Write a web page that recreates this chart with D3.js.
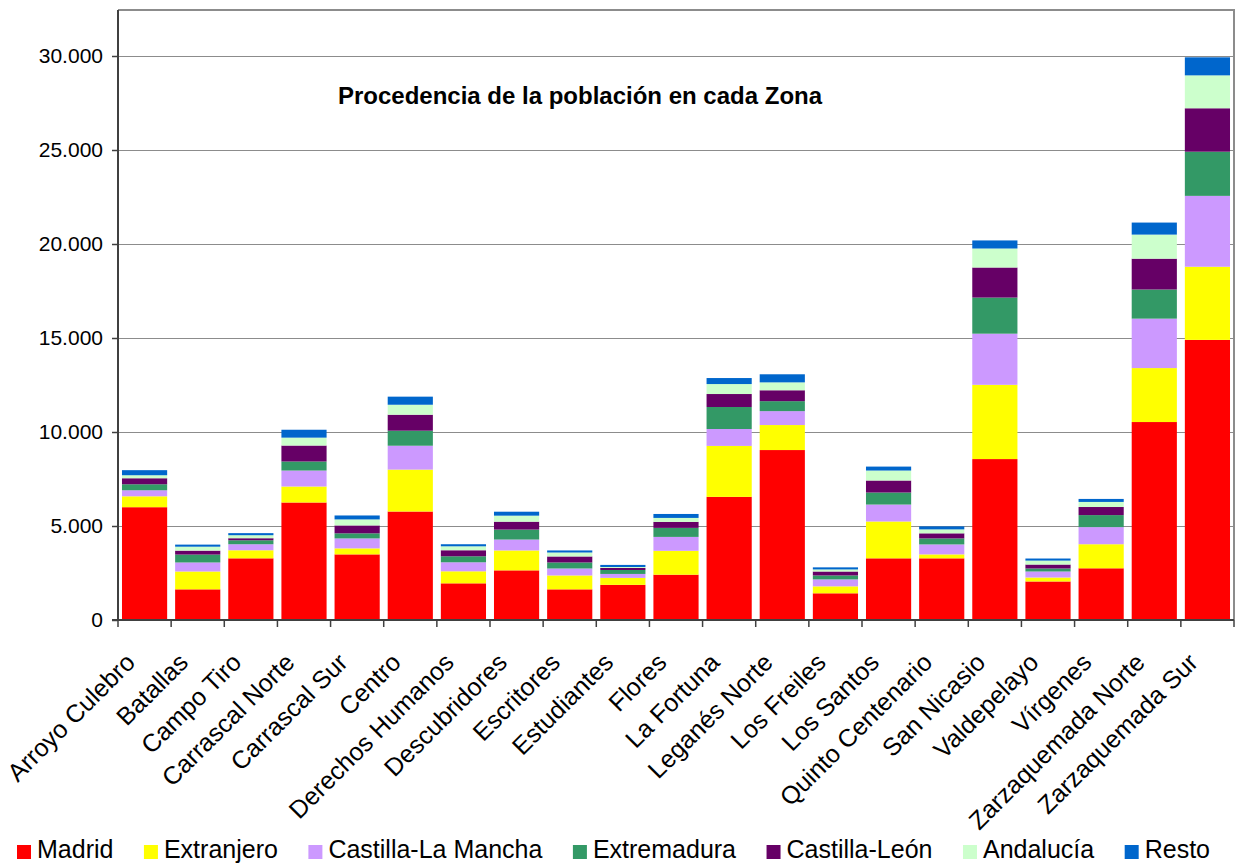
<!DOCTYPE html>
<html>
<head>
<meta charset="utf-8">
<script src="https://cdn.jsdelivr.net/npm/d3@7"></script>
<style>
  body { margin: 0; background: #fff; }
  svg { display: block; font-family: Arial, "Liberation Sans", sans-serif; }
</style>
</head>
<body>
<svg id="chart" width="1236" height="864"></svg>
<script>
// Data
const zonas = ["Arroyo Culebro", "Batallas", "Campo Tiro", "Carrascal Norte", "Carrascal Sur", "Centro",
  "Derechos Humanos", "Descubridores", "Escritores", "Estudiantes", "Flores", "La Fortuna", "Leganés Norte",
  "Los Freiles", "Los Santos", "Quinto Centenario", "San Nicasio", "Valdepelayo", "Vírgenes",
  "Zarzaquemada Norte", "Zarzaquemada Sur"];

const madrid       = [6000, 1630, 3280, 6250, 3490, 5770, 1950, 2640, 1630, 1870, 2410, 6550, 9040, 1420, 3280, 3280, 8560, 2050, 2750, 10530, 14900];
const extranjero   = [580, 950, 430, 850, 320, 2230, 640, 1060, 740, 370, 1270, 2710, 1330, 370, 1960, 210, 3950, 210, 1280, 2870, 3890];
const castillaLM   = [320, 480, 320, 850, 530, 1270, 480, 580, 370, 210, 740, 900, 740, 370, 900, 530, 2720, 320, 910, 2630, 3770];
const extremadura  = [320, 420, 210, 480, 270, 800, 320, 530, 320, 210, 480, 1170, 530, 210, 640, 320, 1920, 160, 640, 1550, 2350];
const castillaLeon = [320, 210, 110, 850, 420, 850, 320, 420, 320, 110, 320, 690, 580, 210, 640, 270, 1600, 210, 430, 1640, 2310];
const andalucia    = [160, 210, 160, 420, 320, 530, 210, 320, 210, 50, 210, 530, 420, 110, 530, 210, 1010, 210, 270, 1280, 1750];
const resto        = [270, 110, 110, 420, 210, 430, 110, 210, 110, 110, 210, 320, 430, 110, 210, 160, 430, 110, 160, 640, 960];

const seriesNames = ["Madrid", "Extranjero", "Castilla-La Mancha", "Extremadura", "Castilla-León", "Andalucía", "Resto"];
const seriesValues = [madrid, extranjero, castillaLM, extremadura, castillaLeon, andalucia, resto];
const colors = ["#ff0000", "#ffff00", "#cc99ff", "#339966", "#660066", "#ccffcc", "#0066cc"];

const yTicks = [0, 5000, 10000, 15000, 20000, 25000, 30000];

// Build table for d3.stack
const table = zonas.map((z, i) => {
  const row = { zona: z };
  seriesNames.forEach((s, j) => row[s] = seriesValues[j][i]);
  return row;
});

const svg = d3.select("#chart");
const plot = { left: 118, right: 1234, top: 10, bottom: 620 };

const x = d3.scaleBand()
  .domain(zonas)
  .range([plot.left, plot.right])
  .paddingInner(0.15)
  .paddingOuter(0.075);

const y = d3.scaleLinear()
  .domain([0, 30000])
  .range([plot.bottom, 56]);

const fmt = d => d3.format(",")(d).replace(/,/g, ".");

// gridlines
svg.append("g")
  .selectAll("line")
  .data(yTicks.filter(d => d > 0))
  .enter()
  .append("line")
  .attr("x1", plot.left).attr("x2", plot.right)
  .attr("y1", d => Math.round(y(d)) + 0.5).attr("y2", d => Math.round(y(d)) + 0.5)
  .attr("stroke", "#8c8c8c").attr("stroke-width", 1);

// plot border (top/right)
svg.append("path")
  .attr("d", `M${plot.left},${plot.top} H${plot.right} V${plot.bottom}`)
  .attr("fill", "none").attr("stroke", "#8c8c8c").attr("stroke-width", 2);

// bars
const stacked = d3.stack().keys(seriesNames)(table);
svg.append("g")
  .selectAll("g")
  .data(stacked)
  .enter()
  .append("g")
  .attr("fill", (d, i) => colors[i])
  .selectAll("rect")
  .data(d => d)
  .enter()
  .append("rect")
  .attr("x", d => x(d.data.zona))
  .attr("width", x.bandwidth())
  .attr("y", d => y(d[1]))
  .attr("height", d => y(d[0]) - y(d[1]));

// y axis
const yAxis = svg.append("g")
  .attr("transform", `translate(${plot.left},0)`)
  .call(d3.axisLeft(y).tickValues(yTicks).tickFormat(fmt).tickSize(6).tickPadding(9));
yAxis.select(".domain").attr("d", `M0,${plot.top}V${plot.bottom}`).attr("stroke", "#404040").attr("stroke-width", 2);
yAxis.selectAll(".tick line").attr("stroke", "#404040").attr("stroke-width", 1.5);
yAxis.selectAll(".tick text").attr("font-size", 21).attr("fill", "#000").attr("font-family", "Arial, 'Liberation Sans', sans-serif");

// x axis
const xAxisG = svg.append("g");
xAxisG.append("line")
  .attr("x1", plot.left - 6).attr("x2", plot.right)
  .attr("y1", plot.bottom).attr("y2", plot.bottom)
  .attr("stroke", "#404040").attr("stroke-width", 2);
xAxisG.selectAll(".xtick")
  .data(d3.range(zonas.length + 1))
  .enter()
  .append("line")
  .attr("x1", i => plot.left + i * x.step())
  .attr("x2", i => plot.left + i * x.step())
  .attr("y1", plot.bottom).attr("y2", plot.bottom + 7)
  .attr("stroke", "#404040").attr("stroke-width", 1.5);
xAxisG.selectAll(".xlabel")
  .data(zonas)
  .enter()
  .append("text")
  .attr("transform", d => `translate(${x(d) + x.bandwidth() / 2 - 8},${plot.bottom + 44}) rotate(-45)`)
  .attr("text-anchor", "end")
  .attr("font-size", 25)
  .attr("fill", "#000")
  .text(d => d);

// title
svg.append("text")
  .attr("x", 580).attr("y", 104)
  .attr("text-anchor", "middle")
  .attr("font-size", 24)
  .attr("font-weight", "bold")
  .text("Procedencia de la población en cada Zona");

// legend: items spread evenly between the first square and the last label end
const legend = svg.append("g").attr("transform", "translate(0,845)");
const legStart = 17, legEnd = 1210, sq = 14, txtGap = 6;
const items = seriesNames.map((s, i) => {
  const g = legend.append("g");
  g.append("rect").attr("width", sq).attr("height", sq).attr("fill", colors[i]);
  const t = g.append("text").attr("x", sq + txtGap).attr("y", 13).attr("font-size", 25).attr("fill", "#000").text(s);
  return { g, w: sq + txtGap + t.node().getComputedTextLength() };
});
const gap = (legEnd - legStart - d3.sum(items, d => d.w)) / (items.length - 1);
let lx = legStart;
items.forEach(it => {
  it.g.attr("transform", `translate(${lx},0)`);
  lx += it.w + gap;
});
</script>
</body>
</html>
